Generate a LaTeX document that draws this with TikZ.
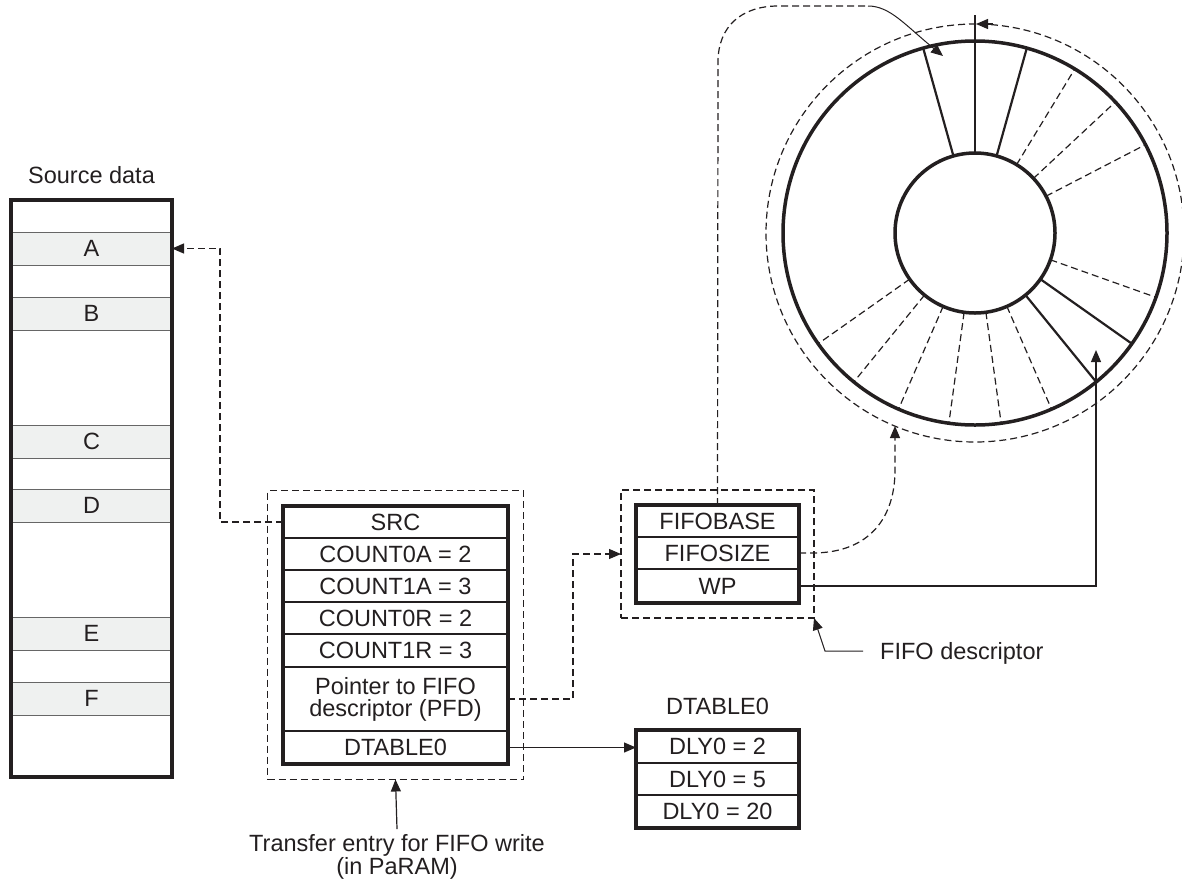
\documentclass[tikz,border=0pt]{standalone}
\usepackage{fontspec}
\setmainfont{Liberation Sans}
\usetikzlibrary{arrows.meta,fit,calc}
\definecolor{ink}{HTML}{231F20}
\definecolor{bandfill}{HTML}{EFF1F0}
\begin{document}
\begin{tikzpicture}[x=1pt,y=-1pt,
  font=\fontsize{23.5}{20}\selectfont, text=ink,
  cell/.style={draw=ink, line width=1.2pt, minimum height=32pt, inner sep=0pt, outer sep=0pt, anchor=north west, text=ink},
  tcell/.style={cell, minimum width=225pt},
  fcell/.style={cell, minimum width=163pt},
  band/.style={fill=bandfill, draw=black!60, line width=1pt, minimum width=161pt, minimum height=33pt, inner sep=0pt, outer sep=0pt},
  boxframe/.style={draw=ink, line width=3.2pt, inner sep=0pt, outer sep=0pt},
  dashbox/.style={draw=ink, line width=1.2pt, dash pattern=on 7pt off 4pt, inner sep=15pt, outer sep=0pt},
  dashline/.style={draw=ink, line width=1.2pt, dash pattern=on 7pt off 4pt},
  thinline/.style={draw=ink, line width=1.2pt},
  arr/.style={-{Triangle[length=12pt,width=10pt]}},
  ring/.style={draw=ink, line width=3.5pt},
  radsolid/.style={draw=ink, line width=2.2pt},
  raddash/.style={draw=ink, line width=1.2pt, dash pattern=on 7pt off 4pt},
  lbl/.style={inner sep=0pt, text=ink}
]
\useasboundingbox (0,0) rectangle (1182,884);

% ---------- Source data ----------
\node[lbl, anchor=base] (srclbl) at (91.5,183) {Source data};
\node[band] (A) at (91.5,248.5) {A};
\node[band] (B) at (91.5,313.5) {B};
\node[band] (C) at (91.5,441.5) {C};
\node[band] (D) at (91.5,505.5) {D};
\node[band] (E) at (91.5,633.5) {E};
\node[band] (F) at (91.5,698.5) {F};
\node[boxframe, minimum width=161pt, minimum height=577pt] (srcmem) at (91.5,488.5) {};

% ---------- Transfer entry ----------
\node[tcell] (src) at (283,506) {SRC};
\node[tcell] (c0a) at (283,538) {COUNT0A = 2};
\node[tcell] (c1a) at (283,570) {COUNT1A = 3};
\node[tcell] (c0r) at (283,602) {COUNT0R = 2};
\node[tcell, minimum height=33pt] (c1r) at (283,634) {COUNT1R = 3};
\node[tcell, minimum height=64pt, align=center, font=\fontsize{23.5}{22}\selectfont] (pfd) at (283,667) {Pointer to FIFO\\descriptor (PFD)};
\node[tcell, minimum height=33pt] (dt) at (283,731) {DTABLE0};
\node[boxframe, fit=(src)(dt)] (te) {};
\node[dashbox, fit=(te), inner sep=15.5pt] (ted) {};
\node[lbl, anchor=north, align=center, inner ysep=5pt, font=\fontsize{23.5}{18}\selectfont] (telbl) at (397,829) {Transfer entry for FIFO write\\(in PaRAM)};
\draw[thinline, arr] (telbl.north) -- (ted.south);

% ---------- FIFO descriptor ----------
\node[fcell] (fbase) at (636,505) {FIFOBASE};
\node[fcell] (fsize) at (636,537) {FIFOSIZE};
\node[fcell, minimum height=34pt] (wp) at (636,569) {WP};
\node[boxframe, fit=(fbase)(wp)] (ff) {};
\node[dashbox, fit=(ff)] (ffd) {};
\node[lbl, anchor=base west] (fflbl) at (880,659) {FIFO descriptor};
\coordinate (fl1) at (863,651);
\coordinate (fl2) at (825,651);
\draw[line width=1pt, draw=ink, arr] (fl1) -- (fl2) -- (ffd.south east);

% ---------- DTABLE0 ----------
\node[lbl, anchor=base] (dtlbl) at (717.5,714) {DTABLE0};
\node[fcell, minimum height=33pt] (d1) at (636,730) {DLY0 = 2};
\node[fcell] (d2) at (636,763) {DLY0 = 5};
\node[fcell, minimum height=33pt] (d3) at (636,795) {DLY0 = 20};
\node[boxframe, fit=(d1)(d3)] (dtf) {};

% ---------- Ring buffer ----------
\coordinate (c) at (975,233);
\foreach \k in {2,3,4,7,10,11,12,13,14,15}
  \draw[raddash] ($(c)+({-90+15.652*\k}:80)$) -- ($(c)+({-90+15.652*\k}:192)$);
\foreach \k in {1,8,9,22}
  \draw[radsolid] ($(c)+({-90+15.652*\k}:80)$) -- ($(c)+({-90+15.652*\k}:192)$);
\coordinate (ptop) at (975,15);
\draw[radsolid] (ptop) -- ($(c)+(-90:80)$);
\draw[ring] (c) circle[radius=192];
\draw[ring, fill=white] (c) circle[radius=80];
\draw[dashline] (c) circle[radius=209];
\coordinate (topA) at (993,24);
\coordinate (topB) at (976,24);
\draw[thinline, arr] (topA) -- (topB);

% ---------- Connectors ----------
\draw[dashline, arr] (src.west) -- ++(-63,0) |- (A.east);
\draw[dashline, arr] (pfd.east) -- (573,699) |- (ffd.west);
\draw[thinline, arr] (dt.east) -- (dt.east -| d1.west);
\coordinate (wpend) at (1096,350);
\draw[thinline, arr] (wp.east) -| (wpend);
\coordinate (sizeend) at (895,426);
\draw[dashline, arr] (fsize.east) -- (812,553) .. controls (872,553) and (895,515) .. (895,470) -- (sizeend);
\coordinate (bend) at (868,6);
\coordinate (baseend) at (943,56);
\draw[dashline] (fbase.north) -- (718,62) .. controls (718,26) and (742,6) .. (778,6) -- (bend);
\draw[line width=1pt, draw=ink, arr] (bend) .. controls (890,6) and (905,25) .. (baseend);
\end{tikzpicture}
\end{document}
